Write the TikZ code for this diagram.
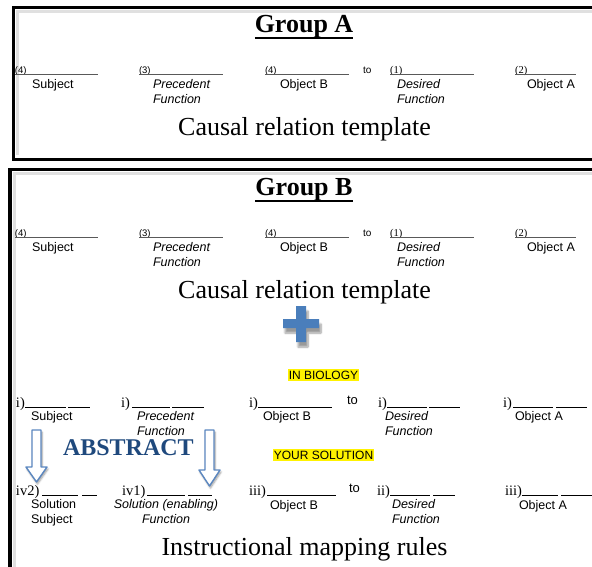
\documentclass[tikz,border=0pt]{standalone}
\usepackage{xcolor}
\usepackage{fontspec}
\setmainfont{Liberation Serif}
\setsansfont{Liberation Sans}
\usepackage{tikz}
\usetikzlibrary{shadows.blur}

\definecolor{plusblue}{HTML}{4A7EBB}
\definecolor{abstractblue}{HTML}{1F497D}
\definecolor{arrowblue}{HTML}{5B87C0}

\begin{document}
\begin{tikzpicture}[x=1pt,y=-1pt,
			every node/.style={inner sep=0pt,outer sep=0pt},
			frame/.style={line width=3.8pt},
			innershade/.style={line width=3pt,black!12},
			blankline/.style={line width=0.9pt,gray!70!black},
			uline/.style={line width=0.8pt},
			grouptitle/.style={font=\bfseries\fontsize{26}{30}\selectfont,anchor=base},
			caption/.style={font=\fontsize{26}{30}\selectfont,anchor=base},
			num/.style={font=\sffamily\fontsize{9.5}{11}\selectfont,anchor=base west},
			snum/.style={font=\fontsize{10.5}{12}\selectfont,anchor=base west},
			lab/.style={font=\sffamily\fontsize{12.5}{15}\selectfont,anchor=base west,align=left},
			flab/.style={lab,font=\sffamily\itshape\fontsize{12.5}{15}\selectfont},
			roman/.style={font=\fontsize{14.5}{16}\selectfont,anchor=base west},
			hl/.style={fill=yellow,font=\sffamily\fontsize{12}{14}\selectfont,inner xsep=1pt,minimum height=12pt},
			hollow/.style={draw=arrowblue,fill=white,line width=1.4pt,line join=round,
				blur shadow={shadow xshift=1pt,shadow yshift=-2pt,shadow blur steps=5}}]
	\useasboundingbox (0,0) rectangle (592,566);
	\clip (0,0) rectangle (592,566);

	% frames
	\draw[innershade] (600,11.5) -- (17.5,11.5) -- (17.5,155);
	\draw[frame] (600,7.5) -- (13.5,7.5) -- (13.5,159.5) -- (600,159.5);
	\draw[innershade] (600,173.5) -- (14,173.5) -- (14,580);
	\draw[frame] (600,169.5) -- (10,169.5) -- (10,580);

	% the two templates (two-line labels sit on their last line)
	\foreach \g/\dy/\name in {a/0/A,b/163/B}{
		\node[grouptitle] (title\g) at (304,32+\dy) {Group \name};
		\draw[line width=1.8pt] ([yshift=-6pt]title\g.base west) -- ([yshift=-6pt]title\g.base east);

		\node[num] (subjnum\g) at (15,73+\dy) {(4)};
		\draw[blankline] (15,74+\dy) -- (98,74+\dy);
		\node[lab] (subj\g) at (32,88+\dy) {Subject};

		\node[num] (prenum\g) at (139,73+\dy) {(3)};
		\draw[blankline] (139,74+\dy) -- (223,74+\dy);
		\node[flab] (pre\g) at (153,103+\dy) {Precedent\\Function};

		\node[num] (objbnum\g) at (265,73+\dy) {(4)};
		\draw[blankline] (265,74+\dy) -- (349,74+\dy);
		\node[lab] (objb\g) at (280,88+\dy) {Object B};

		\node[font=\sffamily\fontsize{10}{12}\selectfont,anchor=base west] (to\g) at (363,73+\dy) {to};

		\node[snum] (desnum\g) at (390,73+\dy) {(1)};
		\draw[blankline] (390,74+\dy) -- (474,74+\dy);
		\node[flab] (des\g) at (397,103+\dy) {Desired\\Function};

		\node[snum] (objanum\g) at (515,73+\dy) {(2)};
		\draw[blankline] (515,74+\dy) -- (576,74+\dy);
		\node[lab] (obja\g) at (527,88+\dy) {Object A};

		\node[caption] (cap\g) at (304.5,135+\dy) {Causal relation template};
	}

	% plus sign
	\fill[plusblue,blur shadow={shadow xshift=2pt,shadow yshift=-5pt,shadow blur steps=8}]
		(296,306) -- (306,306) -- (306,319) -- (319,319) -- (319,328) -- (306,328)
		-- (306,342) -- (296,342) -- (296,328) -- (283,328) -- (283,319) -- (296,319) -- cycle;

	\node[hl] (inbio) at (323.5,375) {IN BIOLOGY};

	% row i)
	\node[roman] (r1) at (16,407) {i)};
	\draw[uline] (25,407) -- (66,407) (68,407) -- (90,407);
	\node[lab] (subjbio) at (31,420) {Subject};
	\node[roman] (r2) at (121,407) {i)};
	\draw[uline] (132,407) -- (170,407) (172,407) -- (204,407);
	\node[flab] (prebio) at (137,435) {Precedent\\Function};
	\node[roman] (r3) at (249,407) {i)};
	\draw[uline] (258,407) -- (332,407);
	\node[lab] (objbbio) at (263,420) {Object B};
	\node[font=\sffamily\fontsize{13}{15}\selectfont,anchor=base west] (tobio) at (347,404) {to};
	\node[roman] (r4) at (378,407) {i)};
	\draw[uline] (387,407) -- (427,407) (429,407) -- (460,407);
	\node[flab] (desbio) at (385,435) {Desired\\Function};
	\node[roman] (r5) at (503,407) {i)};
	\draw[uline] (513,407) -- (553,407) (556,407) -- (587,407);
	\node[lab] (objabio) at (515,420) {Object A};

	% abstract arrows
	\draw[hollow] (32,430) -- (41,430) -- (41,467) -- (47,467) -- (36.5,482) -- (26,467) -- (32,467) -- cycle;
	\draw[hollow] (205,430) -- (214,430) -- (214,470) -- (220,470) -- (209.5,486) -- (199,470) -- (205,470) -- cycle;
	\node[font=\bfseries\fontsize{24}{28}\selectfont,text=abstractblue,anchor=base west] (abstract) at (63,455) {ABSTRACT};

	\node[hl] (yoursol) at (323.5,455) {YOUR SOLUTION};

	% row ii)
	\node[roman] (s1) at (16,495) {iv2)};
	\draw[uline] (42,495) -- (78,495) (82,495) -- (97,495);
	\node[lab] (subjsol) at (31,523) {Solution\\Subject};
	\node[roman] (s2) at (122,495) {iv1)};
	\draw[uline] (147,495) -- (185,495) (188,495) -- (212,495);
	\node[flab,align=center,anchor=base] (presol) at (166,523) {Solution (enabling)\\Function};
	\node[roman] (s3) at (249,495) {iii)};
	\draw[uline] (267,495) -- (336,495);
	\node[lab] (objbsol) at (270,509) {Object B};
	\node[font=\sffamily\fontsize{13}{15}\selectfont,anchor=base west] (tosol) at (349,492) {to};
	\node[roman] (s4) at (377,495) {ii)};
	\draw[uline] (390,495) -- (430,495) (433,495) -- (455,495);
	\node[flab] (dessol) at (392,523) {Desired\\Function};
	\node[roman] (s5) at (505,495) {iii)};
	\draw[uline] (522,495) -- (558,495) (561,495) -- (592,495);
	\node[lab] (objasol) at (519,509) {Object A};

	\node[caption] (rules) at (304.5,555) {Instructional mapping rules};
\end{tikzpicture}
\end{document}
